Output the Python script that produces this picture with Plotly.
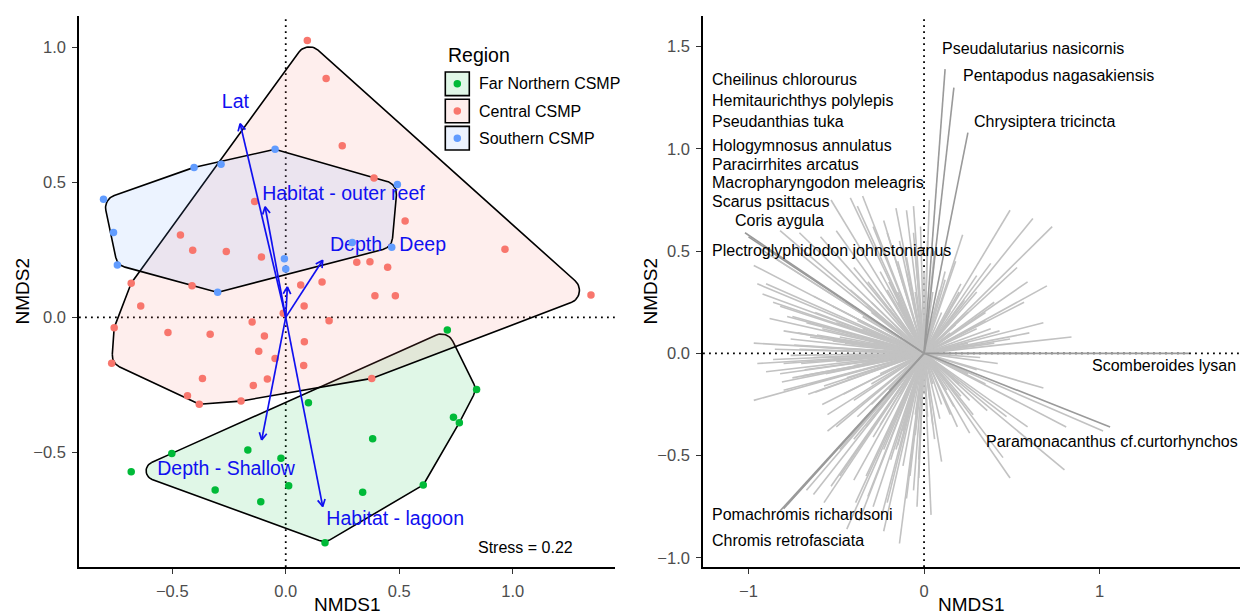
import numpy as np
import plotly.graph_objects as go

# ---------------- Site scores (NMDS1 / NMDS2) by region ----------------
far_northern_nmds1 = [0.100, -0.502, -0.167, -0.021, -0.681, 0.013, -0.311, -0.110,
                      0.712, 0.841, 0.739, 0.765, 0.383, 0.339, 0.606, 0.173]
far_northern_nmds2 = [-0.316, -0.504, -0.491, -0.522, -0.572, -0.624, -0.640, -0.683,
                      -0.047, -0.267, -0.370, -0.390, -0.450, -0.648, -0.621, -0.835]

central_nmds1 = [0.095, 0.178, 0.249, 0.389, 0.526, 0.966, 0.313, 0.371, 0.449, 0.160,
                 0.393, 0.483, 1.345, 0.081, -0.137, -0.464, -0.410, -0.262, -0.107, -0.681,
                 -0.413, -0.639, 0.066, -0.756, -0.519, -0.333, -0.148, -0.094, 0.082, -0.119,
                 -0.047, -0.767, 0.079, -0.367, -0.081, -0.143, -0.433, -0.381, -0.197, -0.011,
                 0.191, 0.379]
central_nmds2 = [1.026, 0.885, 0.636, 0.517, 0.357, 0.253, 0.204, 0.206, 0.186, 0.131,
                 0.080, 0.080, 0.083, 0.042, 0.430, 0.305, 0.249, 0.244, 0.224, 0.127,
                 0.117, 0.042, 0.120, -0.038, -0.056, -0.062, -0.017, -0.069, -0.090, -0.125,
                 -0.152, -0.170, -0.178, -0.226, -0.228, -0.252, -0.290, -0.322, -0.310, 0.015,
                 -0.012, -0.226]

southern_nmds1 = [-0.047, -0.404, -0.285, -0.803, -0.759, -0.742, -0.006, 0.000,
                  -0.300, 0.492, 0.293, 0.467]
southern_nmds2 = [0.623, 0.556, 0.568, 0.438, 0.315, 0.194, 0.217, 0.179,
                  0.093, 0.493, 0.278, 0.260]

region_names = ["Far Northern CSMP", "Central CSMP", "Southern CSMP"]
region_colors = ["#00BA38", "#F8766D", "#619CFF"]

# ---------------- Fitted environmental vectors ----------------
env_names = ["Lat", "Habitat - outer reef", "Depth - Deep", "Depth - Shallow",
             "Habitat - lagoon", ""]
env_nmds1 = [-0.201, -0.091, 0.163, -0.106, 0.163, 0.007]
env_nmds2 = [0.718, 0.410, 0.212, -0.454, -0.701, 0.113]
env_label_nmds1 = [-0.222, -0.104, 0.195, -0.566, 0.179, 0.0]
env_label_nmds2 = [0.794, 0.453, 0.265, -0.566, -0.753, 0.0]

stress_value = 0.22

# ---------------- Species vectors ----------------
named_species = ["Pseudalutarius nasicornis", "Pentapodus nagasakiensis", "Chrysiptera tricincta",
                 "Cheilinus chlorourus", "Hemitaurichthys polylepis", "Pseudanthias tuka",
                 "Hologymnosus annulatus", "Paracirrhites arcatus", "Macropharyngodon meleagris",
                 "Scarus psittacus", "Coris aygula", "Plectroglyphidodon johnstonianus",
                 "Scomberoides lysan", "Paramonacanthus cf.curtorhynchos",
                 "Pomachromis richardsoni", "Chromis retrofasciata"]
named_nmds1 = [0.12, 0.17, 0.25, -0.30, -0.25, -0.35, -0.20, -0.28, -0.38, -0.15,
               -1.02, -1.00, 1.51, 1.06, -0.83, -0.80]
named_nmds2 = [1.39, 1.30, 1.08, 0.25, 0.30, 0.18, 0.22, 0.12, 0.28, 0.30,
               0.59, 0.57, 0.00, -0.36, -0.78, -0.76]
named_label_nmds1 = [0.091, 0.211, 0.275, -1.219, -1.219, -1.219, -1.219, -1.219, -1.219,
                     -1.219, -1.090, -1.219, 1.791, 1.800, -1.222, -1.222]
named_label_nmds2 = [1.491, 1.360, 1.132, 1.341, 1.238, 1.132, 1.018, 0.925, 0.834,
                     0.744, 0.651, 0.501, -0.057, -0.432, -0.790, -0.916]

other_species_nmds1 = [
    0.22, 0.49, 0.62, 0.73, 0.70, 0.59, 0.57, 0.38, 0.53, 0.03, 0.68, 0.60, 0.84, 0.21, 0.30,
    0.40, 0.59, 0.15, 0.23, 0.35, 0.43, 0.12, 0.09, 0.18, 0.49, 0.29, 0.06, 0.35, 0.40, 0.05,
    0.10, 0.15, 0.25,
    -0.06, -0.02, -0.10, -0.16,
    -0.42, -0.35, -0.23, -0.53, -0.50, -0.59, -0.71, -0.82, -0.93, -0.97, -0.95, -0.86, -0.88,
    -0.80, -0.97, -0.76, -0.71, -0.38, -0.29, -0.21, -0.14, -0.71, -0.84, -0.90, -0.92, -0.82,
    -0.78, -0.67, -0.61, -0.48, -0.63, -0.52, -0.42, -0.33, -0.21, -0.10, -0.06, -0.45, -0.60,
    -0.35, -0.30, -0.50, -0.45, -0.20, -0.15, -0.10, -0.65, -0.62,
    -0.86, -0.97, -0.95, -0.90, -0.81, -0.75, -0.62, -0.55, -0.50, -0.63, -0.53, -0.48, -0.40,
    -0.39, -0.32, -0.29, -0.24, -0.21, -0.14, -0.10, -0.03, -0.20, -0.14, -0.78, -0.67, -0.57,
    -0.44, -0.37, -0.23, -0.04, -0.82, -0.69, -0.65, -0.57, -0.46, -0.40, -0.38, -0.33, -0.29,
    -0.23, -0.19, -0.16, -0.12, -0.08, -0.06, -0.03, -0.48, -0.55, -0.40, -0.33, -0.55, -0.40,
    -0.25, -0.10, -0.20, -0.30, -0.15, -0.05, -0.70, -0.76,
    0.68, 1.02, 0.81, 0.80, 0.45, 0.49, 0.26, 0.19, 0.10, 0.09, 0.04, 0.26, 0.17, 0.21, 0.13,
    0.36, 0.47, 0.59, 0.06, 0.02, 0.32, 0.30, 0.20, 0.10, 0.00, 0.05,
    -0.85, -0.80, -0.72, -0.68, -0.75, -0.58, -0.66, -0.58, -0.80, -0.52, -0.44, -0.38, -0.56,
    -0.50, -0.74, -0.63,
    0.20, 0.25, 0.30, 0.12, 0.00, -0.05, 0.08, 0.30, 0.25, 0.35, 0.15, 0.05, -0.05, -0.25,
    -0.30, -0.35, -0.28, -0.25, -0.15, -0.32, 0.18, 0.28, -0.12, 0.42, 0.38, -0.40, -0.05, 0.02]
other_species_nmds2 = [
    0.58, 0.70, 0.66, 0.62, 0.33, 0.35, 0.25, 0.44, 0.42, 0.75, 0.15, 0.10, 0.08, 0.34, 0.38,
    0.25, 0.00, 0.21, 0.26, 0.16, 0.11, 0.36, 0.31, 0.14, 0.07, 0.04, 0.50, 0.20, 0.05, 0.30,
    0.20, 0.10, 0.05,
    0.72, 0.62, 0.70, 0.71,
    0.76, 0.77, 0.65, 0.75, 0.60, 0.57, 0.59, 0.60, 0.51, 0.43, 0.34, 0.25, 0.17,
    0.11, 0.05, 0.07, 0.02, 0.72, 0.62, 0.59, 0.55, 0.49, 0.46, 0.34, 0.29, 0.23,
    0.18, 0.15, 0.09, 0.08, 0.28, 0.23, 0.31, 0.23, 0.31, 0.47, 0.59, 0.05, 0.03,
    0.12, 0.20, 0.15, 0.25, 0.35, 0.25, 0.40, 0.08, 0.20,
    -0.03, -0.23, -0.05, -0.09, -0.14, -0.12, -0.19, -0.30, -0.36, -0.69, -0.65, -0.60, -0.62,
    -0.73, -0.70, -0.75, -0.79, -0.73, -0.93, -0.71, -0.61, -0.18, -0.20, -0.74, -0.67, -0.73,
    -0.86, -0.82, -0.87, -0.75, -0.10, -0.11, -0.15, -0.16, -0.20, -0.23, -0.31, -0.36, -0.41,
    -0.47, -0.52, -0.47, -0.55, -0.60, -0.67, -0.52, -0.47, -0.38, -0.42, -0.60, -0.02, -0.06,
    -0.10, -0.30, -0.25, -0.25, -0.45, -0.40, -0.05, -0.01,
    -0.17, -0.38, -0.36, -0.57, -0.51, -0.61, -0.39, -0.36, -0.53, -0.32, -0.79, -0.23, -0.26,
    -0.21, -0.18, -0.28, -0.31, -0.36, -0.42, -0.31, -0.02, -0.08, -0.15, -0.25, -0.20, -0.15,
    0.02, -0.05, 0.10, -0.08, 0.18, 0.12, -0.20, -0.25, -0.18, 0.06, -0.12, 0.16, -0.10,
    -0.04, 0.04, -0.02,
    0.30, 0.20, 0.12, 0.40, 0.40, 0.30, 0.28, 0.30, -0.10, -0.15, -0.30, -0.35, -0.30, -0.35,
    -0.15, -0.05, 0.05, 0.40, 0.45, 0.35, 0.45, -0.30, -0.38, -0.05, 0.12, 0.42, 0.48, 0.55]

# ---------------- Layout geometry ----------------
W, H = 1250, 614
MARGIN = dict(l=79, r=10, t=16, b=47)
PW = W - MARGIN["l"] - MARGIN["r"]
PH = H - MARGIN["t"] - MARGIN["b"]
LEFT_DOM = [0.0, 0.4617]
RIGHT_DOM = [0.5375, 1.0]
LEFT_XR, LEFT_YR = [-0.911, 1.451], [-0.925, 1.117]
RIGHT_XR, RIGHT_YR = [-1.259, 1.80], [-1.045, 1.65]

SX = PW * (LEFT_DOM[1] - LEFT_DOM[0]) / (LEFT_XR[1] - LEFT_XR[0])  # px per unit
SY = PH / (LEFT_YR[1] - LEFT_YR[0])

FONT = "Liberation Sans, Arial, Helvetica, sans-serif"
ARROW_BLUE = "#1010F0"


def px_to_paper(px, py):
    return (px - MARGIN["l"]) / PW, (H - MARGIN["b"] - py) / PH


def convex_hull(pts):
    pts = sorted(map(tuple, pts))

    def cross(o, a, b):
        return (a[0] - o[0]) * (b[1] - o[1]) - (a[1] - o[1]) * (b[0] - o[0])

    lower, upper = [], []
    for p in pts:
        while len(lower) >= 2 and cross(lower[-2], lower[-1], p) <= 0:
            lower.pop()
        lower.append(p)
    for p in reversed(pts):
        while len(upper) >= 2 and cross(upper[-2], upper[-1], p) <= 0:
            upper.pop()
        upper.append(p)
    return np.array(lower[:-1] + upper[:-1])


def rounded_hull(xs, ys, radius=13.0, steps=14):
    """Convex hull of the group with corners rounded by a fixed pixel radius."""
    pts = np.column_stack([np.asarray(xs) * SX, np.asarray(ys) * SY])
    hull = convex_hull(pts)
    m = len(hull)
    out = []
    for i in range(m):
        p, a, b = hull[i], hull[i - 1], hull[(i + 1) % m]
        la, lb = np.linalg.norm(a - p), np.linalg.norm(b - p)
        u, v = (a - p) / la, (b - p) / lb
        theta = np.arccos(np.clip(np.dot(u, v), -1, 1))
        d = min(radius / np.tan(theta / 2), 0.5 * la, 0.5 * lb)
        rr = d * np.tan(theta / 2)
        bis = (u + v) / np.linalg.norm(u + v)
        c = p + bis * rr / np.sin(theta / 2)
        t1, t2 = p + u * d, p + v * d
        a1 = np.arctan2(*(t1 - c)[::-1])
        a2 = np.arctan2(*(t2 - c)[::-1])
        da = (a2 - a1 + np.pi) % (2 * np.pi) - np.pi
        for k in range(steps + 1):
            ang = a1 + da * k / steps
            out.append(c + rr * np.array([np.cos(ang), np.sin(ang)]))
    out.append(out[0])
    out = np.array(out)
    return out[:, 0] / SX, out[:, 1] / SY


def rgba(hex_color, alpha):
    h = hex_color.lstrip("#")
    r, g, b = (int(h[i:i + 2], 16) for i in (0, 2, 4))
    return f"rgba({r},{g},{b},{alpha})"


fig = go.Figure()

# Reference lines through the origin (drawn underneath everything)
dot_line = dict(color="black", width=1.8, dash="1.8px,4.2px")
for xr, yr in (("x", "y"), ("x2", "y2")):
    fig.add_shape(type="line", xref=xr, yref=f"{yr} domain", x0=0, x1=0, y0=0, y1=1,
                  line=dot_line, layer="below")
    fig.add_shape(type="line", xref=f"{xr} domain", yref=yr, x0=0, x1=1, y0=0, y1=0,
                  line=dot_line, layer="below")

# ---------------- Left panel: site NMDS ----------------
groups = [(far_northern_nmds1, far_northern_nmds2),
          (central_nmds1, central_nmds2),
          (southern_nmds1, southern_nmds2)]

for (gx, gy), col in zip(groups, region_colors):
    hx, hy = rounded_hull(gx, gy)
    fig.add_trace(go.Scatter(x=hx, y=hy, mode="lines", fill="toself",
                             fillcolor=rgba(col, 0.12),
                             line=dict(color="black", width=1.6),
                             hoverinfo="skip", showlegend=False, xaxis="x", yaxis="y"))

# Vector labels sit beneath the site points
for name, lx, ly in zip(env_names, env_label_nmds1, env_label_nmds2):
    if not name:
        continue
    fig.add_trace(go.Scatter(x=[lx], y=[ly], mode="text", text=[name],
                             textposition="middle center" if name == "Lat" else "middle right",
                             textfont=dict(family=FONT, size=19.5, color=ARROW_BLUE),
                             hoverinfo="skip", showlegend=False, xaxis="x", yaxis="y"))

for (gx, gy), col, name in zip(groups, region_colors, region_names):
    fig.add_trace(go.Scatter(x=gx, y=gy, mode="markers", name=name,
                             marker=dict(color=col, size=7.5, line=dict(width=0)),
                             showlegend=False, xaxis="x", yaxis="y"))

# Environmental arrows
shaft_x, shaft_y, head_x, head_y = [], [], [], []
head_len, head_ang = 8.0, np.radians(28)
for ex, ey in zip(env_nmds1, env_nmds2):
    shaft_x += [0, ex, None]
    shaft_y += [0, ey, None]
    tip = np.array([ex * SX, ey * SY])
    d = tip / np.linalg.norm(tip)
    for s in (1, -1):
        c, sn = np.cos(s * head_ang), np.sin(s * head_ang)
        back = np.array([c * d[0] - sn * d[1], sn * d[0] + c * d[1]])
        arm = tip - head_len * back
        head_x += [arm[0] / SX, ex, None]
        head_y += [arm[1] / SY, ey, None]
fig.add_trace(go.Scatter(x=shaft_x, y=shaft_y, mode="lines",
                         line=dict(color=ARROW_BLUE, width=1.7),
                         hoverinfo="skip", showlegend=False, xaxis="x", yaxis="y"))
fig.add_trace(go.Scatter(x=head_x, y=head_y, mode="lines",
                         line=dict(color=ARROW_BLUE, width=1.7),
                         hoverinfo="skip", showlegend=False, xaxis="x", yaxis="y"))

annotations = [dict(x=1.274, y=-0.854, xref="x", yref="y",
                    text=f"Stress = {stress_value:.2f}", showarrow=False,
                    xanchor="right", yanchor="middle",
                    font=dict(family=FONT, size=16, color="black"))]

# ---------------- Right panel: species vectors ----------------
# long named vectors are drawn in a darker grey on top of the rest
all_x = list(other_species_nmds1) + list(named_nmds1)
all_y = list(other_species_nmds2) + list(named_nmds2)
is_dark = [False] * len(other_species_nmds1) + \
          [np.hypot(a, b) > 0.9 for a, b in zip(named_nmds1, named_nmds2)]

seg = {False: ([], []), True: ([], [])}
for sx_, sy_, dk in zip(all_x, all_y, is_dark):
    seg[dk][0].extend([0, sx_, None])
    seg[dk][1].extend([0, sy_, None])
for dk, col in ((False, "#C2C2C2"), (True, "#9A9A9A")):
    fig.add_trace(go.Scatter(x=seg[dk][0], y=seg[dk][1], mode="lines",
                             line=dict(color=col, width=1.6),
                             hoverinfo="skip", showlegend=False, xaxis="x2", yaxis="y2"))

right_aligned = {"Scomberoides lysan", "Paramonacanthus cf.curtorhynchos"}
for name, lx, ly in zip(named_species, named_label_nmds1, named_label_nmds2):
    annotations.append(dict(x=lx, y=ly, xref="x2", yref="y2", text=name, showarrow=False,
                            xanchor="right" if name in right_aligned else "left",
                            yanchor="middle",
                            font=dict(family=FONT, size=16, color="black")))

# ---------------- Axis titles ----------------
title_font = dict(family=FONT, size=19, color="black")
for cx in ((79 + 615) / 2, (703 + 1240) / 2):
    px, py = px_to_paper(cx, 604)
    annotations.append(dict(x=px, y=py, xref="paper", yref="paper", text="NMDS1",
                            showarrow=False, xanchor="center", yanchor="middle", font=title_font))
for cx in (22, 650):
    px, py = px_to_paper(cx, 291.5)
    annotations.append(dict(x=px, y=py, xref="paper", yref="paper", text="NMDS2",
                            showarrow=False, xanchor="center", yanchor="middle",
                            textangle=-90, font=title_font))

# ---------------- Legend (Region) ----------------
shapes = []
tx, ty = px_to_paper(445.5, 55)
annotations.append(dict(x=tx, y=ty, xref="paper", yref="paper", text="Region",
                        showarrow=False, xanchor="left", yanchor="middle",
                        font=dict(family=FONT, size=19.5, color="black")))
for i, (name, col) in enumerate(zip(region_names, region_colors)):
    top = 72 + i * 27.2
    x0, y0 = px_to_paper(445.3, top + 23.6)
    x1, y1 = px_to_paper(469.3, top)
    shapes.append(dict(type="rect", xref="paper", yref="paper", x0=x0, x1=x1, y0=y0, y1=y1,
                       fillcolor=rgba(col, 0.12), line=dict(color="black", width=1.6)))
    cx, cy = px_to_paper(457.3, top + 11.8)
    rx, ry = 3.75 / PW, 3.75 / PH
    shapes.append(dict(type="circle", xref="paper", yref="paper",
                       x0=cx - rx, x1=cx + rx, y0=cy - ry, y1=cy + ry,
                       fillcolor=col, line=dict(width=0)))
    lx, ly = px_to_paper(477.3, top + 11.8)
    annotations.append(dict(x=lx, y=ly, xref="paper", yref="paper", text=name,
                            showarrow=False, xanchor="left", yanchor="middle",
                            font=dict(family=FONT, size=16, color="black")))

axis_common = dict(showline=True, linecolor="black", linewidth=1.6, ticks="outside",
                   ticklen=5, tickwidth=1.4, tickcolor="#333333", showgrid=False,
                   zeroline=False, mirror=False, ticklabelstandoff=3,
                   tickfont=dict(family=FONT, size=16.5, color="#4D4D4D"))

fig.update_layout(
    width=W, height=H, margin=MARGIN,
    paper_bgcolor="white", plot_bgcolor="white",
    showlegend=False,
    xaxis=dict(domain=LEFT_DOM, range=LEFT_XR, anchor="y",
               tickvals=[-0.5, 0.0, 0.5, 1.0], tickformat=".1f", **axis_common),
    yaxis=dict(domain=[0, 1], range=LEFT_YR, anchor="x",
               tickvals=[-0.5, 0.0, 0.5, 1.0], tickformat=".1f", **axis_common),
    xaxis2=dict(domain=RIGHT_DOM, range=RIGHT_XR, anchor="y2",
                tickvals=[-1, 0, 1], tickformat="d", **axis_common),
    yaxis2=dict(domain=[0, 1], range=RIGHT_YR, anchor="x2",
                tickvals=[-1.0, -0.5, 0.0, 0.5, 1.0, 1.5], tickformat=".1f", **axis_common),
    annotations=annotations,
)
for s in shapes:
    fig.add_shape(**s)

fig.write_html("out.html")
